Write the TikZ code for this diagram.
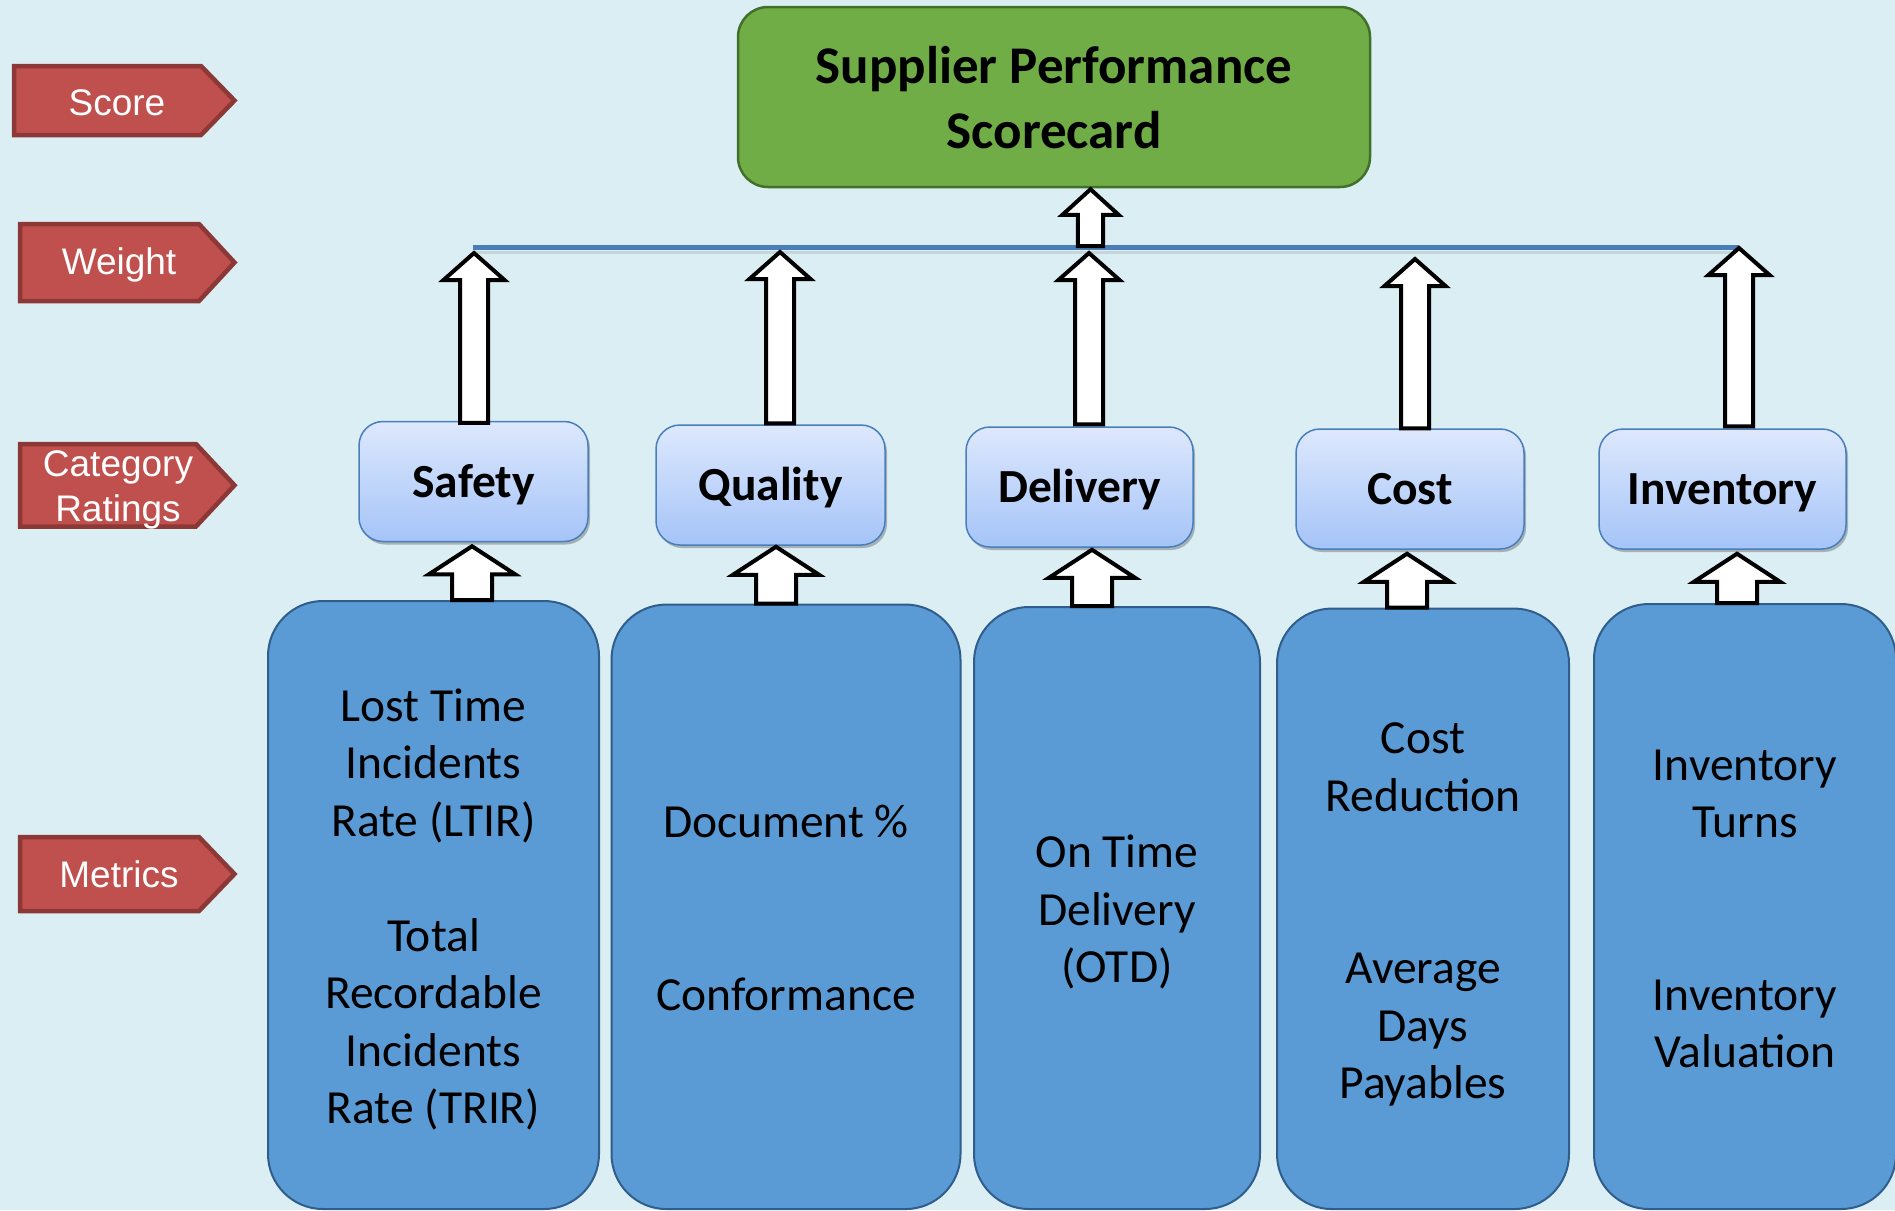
\documentclass[tikz,border=0pt]{standalone}
\usepackage{fontspec}
\setmainfont{Carlito}
\newfontfamily\tagfont{Liberation Sans}
\usetikzlibrary{calc,shadows}
\definecolor{bg}{HTML}{DBEEF4}
\definecolor{tagred}{HTML}{C0504D}
\definecolor{tagborder}{HTML}{8C3836}
\definecolor{titlegreen}{HTML}{70AD47}
\definecolor{titleborder}{HTML}{41702A}
\definecolor{metricblue}{HTML}{5B9BD5}
\definecolor{metricborder}{HTML}{2F5D8C}
\definecolor{cattop}{HTML}{DDE8FD}
\definecolor{catbot}{HTML}{A5C4F8}
\definecolor{catborder}{HTML}{4A7EBB}
\definecolor{busblue}{HTML}{4A7EBB}
\newcommand\mlines[1]{\begin{tabular}[t]{@{}c@{}}#1\end{tabular}}
\newcommand\tagpath[5]{\draw[tagshape] (#1,#4) -- (#2,#4) -- (#3,{(#4+#5)/2}) -- (#2,#5) -- (#1,#5) -- cycle;}
\begin{document}
\begin{tikzpicture}[x=1pt,y=-1pt,
  tagshape/.style={fill=tagred, draw=tagborder, line width=4.5pt, line join=miter},
  tagtext/.style={text=white, inner sep=0pt, font=\tagfont\fontsize{37}{44.5}\selectfont},
  titlebox/.style={draw=titleborder, fill=titlegreen, line width=2.5pt, rounded corners=30pt, inner sep=0pt,
    font=\bfseries\fontsize{53}{65}\selectfont, text height=56.5pt},
  catbox/.style={draw=catborder, line width=1.5pt, top color=cattop, bottom color=catbot, rounded corners=24pt,
    inner sep=0pt, minimum height=120pt, font=\bfseries\fontsize{47.5}{56}\selectfont, text height=40pt, text depth=9pt,
    drop shadow={shadow xshift=2pt, shadow yshift=-3pt, fill=black, opacity=0.25}},
  metricbox/.style={draw=metricborder, line width=2pt, fill=metricblue, rounded corners=55pt, inner sep=0pt,
    font=\fontsize{47.5}{57.5}\selectfont, text height=52pt},
  busline/.style={draw=busblue, line width=4.5pt},
  busshadow/.style={draw=black, opacity=0.10, line width=3pt},
  barrow/.style n args={3}{draw=black, fill=white, line width=4pt, line join=miter,
    to path={let \p1=(\tikztostart), \p2=(\tikztotarget) in
      ({\x1-#2},\y1) -- ({\x1-#2},{\y2-#3}) -- ({\x1-#1},{\y2-#3}) -- (\x1,\y2) --
      ({\x1+#1},{\y2-#3}) -- ({\x1+#2},{\y2-#3}) -- ({\x1+#2},\y1) -- cycle}},
]
\fill[bg] (0,0) rectangle (1895,1210);
\useasboundingbox (0,0) rectangle (1895,1210);

% side tags
\tagpath{14}{201}{234.5}{66}{135}
\tagpath{20}{199}{234.5}{224}{301}
\tagpath{20}{196}{234.5}{444}{526.5}
\tagpath{20}{199}{234.5}{837}{911}
\node[tagtext, anchor=base] (tScore) at (117,115) {Score};
\node[tagtext, anchor=base] (tWeight) at (119,274.7) {Weight};
\node[tagtext, anchor=base] (tCat) at (118,476.5) {\mlines{Category\\Ratings}};
\node[tagtext, anchor=base] (tMetrics) at (119,887) {Metrics};

% title
\node[titlebox, minimum width=632pt, minimum height=180pt] (title) at (1054,97)
  {\mlines{Supplier Performance\\Scorecard}};

% bus line
\coordinate (busL) at (472.6,247.5);
\coordinate (busR) at (1738.7,247.5);
\draw[busshadow] ($(busL)+(0,4.5)$) -- ($(busR)+(0,4.5)$);
\draw[busline] (busL) -- (busR);

% category boxes
\node[catbox, minimum width=229pt] (c1) at (473.5,481.5) {Safety};
\node[catbox, minimum width=229pt] (c2) at (770.5,485) {Quality};
\node[catbox, minimum width=227pt] (c3) at (1079.5,487) {Delivery};
\node[catbox, minimum width=228pt] (c4) at (1410,489) {Cost};
\node[catbox, minimum width=247pt] (c5) at (1722.5,489) {Inventory};

% metric boxes
\node[metricbox, minimum width=331pt, minimum height=608pt] (m1) at (433.5,905)
  {\mlines{Lost Time\\Incidents\\Rate (LTIR)\\ \\Total\\Recordable\\Incidents\\Rate (TRIR)}};
\node[metricbox, minimum width=349pt, minimum height=604.5pt] (m2) at (786,906.8)
  {\mlines{Document \%\\ \\ \\Conformance}};
\node[metricbox, minimum width=286pt, minimum height=602pt] (m3) at (1117,908)
  {\mlines{On Time\\Delivery\\(OTD)}};
\node[metricbox, minimum width=292pt, minimum height=600.5pt] (m4) at (1423,908.8)
  {\mlines{Cost\\Reduction\\ \\ \\Average\\Days\\Payables}};
\node[metricbox, minimum width=302pt, minimum height=605pt] (m5) at (1745,906.5)
  {\mlines{Inventory\\Turns\\ \\ \\Inventory\\Valuation}};

% arrow x positions
\coordinate (ta) at (1090.5,0);
\coordinate (u1) at (474,0);  \coordinate (u2) at (780,0);  \coordinate (u3) at (1089,0);
\coordinate (u4) at (1415,0); \coordinate (u5) at (1739,0);
\coordinate (l1) at (472,0);  \coordinate (l2) at (776,0);  \coordinate (l3) at (1092,0);
\coordinate (l4) at (1407,0); \coordinate (l5) at (1737,0);

% bus to title
\draw[barrow={28}{12.7}{25.5}] ($(ta |- busL)+(0,-1.5)$) to ($(ta |- title.south)+(0,1)$);

% category to bus
\draw[barrow={30.5}{14}{27}] ($(u1 |- c1.north)+(0,2)$) to ($(u1 |- busL)+(0,5.5)$);
\draw[barrow={30.5}{14}{27}] ($(u2 |- c2.north)+(0,-1)$) to ($(u2 |- busL)+(0,4.5)$);
\draw[barrow={30.5}{14}{27}] ($(u3 |- c3.north)+(0,-2)$) to ($(u3 |- busL)+(0,5.5)$);
\draw[barrow={30.5}{14}{27}] ($(u4 |- c4.north)+(0,0)$) to ($(u4 |- busL)+(0,11.5)$);
\draw[barrow={30.5}{14}{27}] ($(u5 |- c5.north)+(0,-2)$) to ($(u5 |- busL)+(0,0.5)$);

% metrics to category
\draw[barrow={43}{20}{28}] (l1 |- m1.north) to ($(l1 |- c1.south)+(0,4)$);
\draw[barrow={43}{20}{28}] (l2 |- m2.north) to ($(l2 |- c2.south)+(0,1)$);
\draw[barrow={43}{20}{28}] (l3 |- m3.north) to ($(l3 |- c3.south)+(0,2)$);
\draw[barrow={43}{20}{28}] (l4 |- m4.north) to ($(l4 |- c4.south)+(0,4)$);
\draw[barrow={43}{20}{28}] (l5 |- m5.north) to ($(l5 |- c5.south)+(0,4)$);
\end{tikzpicture}
\end{document}
